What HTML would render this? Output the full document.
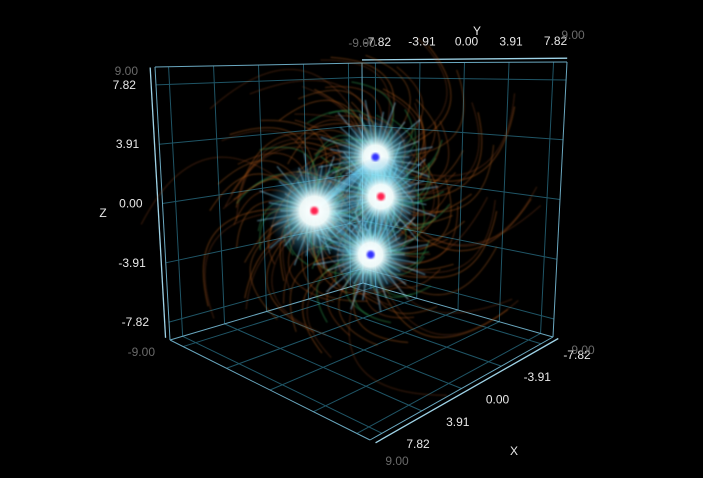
<!DOCTYPE html>
<html><head><meta charset="utf-8"><style>
html,body{margin:0;padding:0;background:#000;width:703px;height:478px;overflow:hidden}
svg{display:block}
text{font-family:"Liberation Sans",sans-serif;font-size:12px}
</style></head><body>
<svg id="chart" width="703" height="478" viewBox="0 0 703 478">
<defs>
<radialGradient id="glow"><stop offset="0" stop-color="#fff" stop-opacity="1"/><stop offset="0.3" stop-color="#f4ffff" stop-opacity="0.95"/><stop offset="0.55" stop-color="#7fe6ff" stop-opacity="0.5"/><stop offset="1" stop-color="#1080c0" stop-opacity="0"/></radialGradient>
<filter id="blur1"><feGaussianBlur stdDeviation="1"/></filter>
<filter id="blur2"><feGaussianBlur stdDeviation="0.7"/></filter>
</defs>
<g id="grid"></g>
<g id="field" filter="url(#blur2)"></g>
<g id="charges"></g>
<g id="labels"></g>
</svg>
<script>
const tickValues=[-7.82,-3.91,0,3.91,7.82];
const tickLabels=["-7.82","-3.91","0.00","3.91","7.82"];
const chargeX=[2.5,0,0,0];
const chargeY=[-2,1,1.5,0.6];
const chargeZ=[-0.3,3,0.65,-3];
const chargeSign=[1,-1,1,-1];
const chargeSize=[1.2,1,1,1];

const NS="http://www.w3.org/2000/svg";
const C={b:{mm:[363,283],pm:[170,340],mp:[553,337],pp:[370,440]},t:{mm:[362,63],pm:[155,67],mp:[567,62],pp:[372,45]}};
function lerp(a,b,t){return [a[0]+(b[0]-a[0])*t,a[1]+(b[1]-a[1])*t];}
function proj(x,y,z){
 const u=(x+9)/18,v=(y+9)/18,w=(z+9)/18;
 function face(f){return lerp(lerp(f.mm,f.pm,u),lerp(f.mp,f.pp,u),v);}
 return lerp(face(C.b),face(C.t),w);
}
function el(tag,attrs,parent){const e=document.createElementNS(NS,tag);for(const k in attrs)e.setAttribute(k,attrs[k]);parent.appendChild(e);return e;}
function line3(a,b,parent,stroke,sw){
 const p=proj(...a),q=proj(...b);
 return el('line',{x1:p[0],y1:p[1],x2:q[0],y2:q[1],stroke:stroke,'stroke-width':sw},parent);
}
const grid=document.getElementById('grid');
const gc="#1f5566";
tickValues.forEach(t=>{
 let l;
 l=line3([t,-9,-9],[t,-9,9],grid,gc,1);
 l=line3([-9,-9,t],[9,-9,t],grid,gc,1);
 l=line3([-9,t,-9],[-9,t,9],grid,gc,1);
 l=line3([-9,-9,t],[-9,9,t],grid,gc,1);
 l=line3([t,-9,-9],[t,9,-9],grid,gc,1);
 l=line3([-9,t,-9],[9,t,-9],grid,gc,1);
});
const ec="#6aa8c0";
[[[9,-9,-9],[9,-9,9]],[[-9,-9,9],[9,-9,9]],[[-9,-9,9],[-9,9,9]],[[-9,9,-9],[-9,9,9]],[[9,-9,-9],[-9,-9,-9]],[[-9,9,-9],[-9,-9,-9]],[[9,-9,-9],[9,9,-9]],[[-9,9,-9],[9,9,-9]],[[-9,-9,-9],[-9,-9,9]]].forEach(e=>{
 const l=line3(e[0],e[1],grid,ec,1);
});
let ab;
ab=line3([9,-9.4,-9],[9,-9.4,9],grid,"#9fd4e8",1.3);
ab=line3([-9,-9,9.25],[-9,9,9.25],grid,"#9fd4e8",1.3);
ab=line3([-9,9.5,-9],[9,9.5,-9],grid,"#9fd4e8",1.3);

const field=document.getElementById('field');
const P=chargeX.map((x,i)=>proj(x,chargeY[i],chargeZ[i]));
const loops=[[190,'#c0601a',0.35],[160,'#c86a20',0.3],[130,'#b85a18',0.3],[110,'#2ea050',0.4],[85,'#30b060',0.35],[220,'#a8501a',0.25]];
P.forEach((p,i)=>{
 loops.forEach((L,j)=>{
  for(let k=0;k<8;k++){
   const a=(k*45+i*23+j*17)*Math.PI/180;
   const r=L[0]*(0.55+0.08*((k+j)%4));
   const ex=p[0]+Math.cos(a)*r, ey=p[1]+Math.sin(a)*r*0.9;
   const cx=p[0]+Math.cos(a+0.9)*r*0.9, cy=p[1]+Math.sin(a+0.9)*r*0.9;
   const path=el('path',{d:`M${p[0]},${p[1]} Q${cx},${cy} ${ex},${ey}`,fill:'none',stroke:L[1],'stroke-opacity':L[2],'stroke-width':1.4},field);
   
   
  }
 });
 for(let k=0;k<36;k++){
  const a=k*Math.PI*2/36;
  const r=34+(k%3)*12;
  const ray=el('line',{x1:p[0],y1:p[1],x2:p[0]+Math.cos(a)*r,y2:p[1]+Math.sin(a)*r,stroke:'#8fe0ff','stroke-opacity':0.5,'stroke-width':1.2},field);
  
  
 }
});
for(let i=0;i<P.length;i++)for(let j=i+1;j<P.length;j++){
 if(chargeSign[i]===chargeSign[j])continue;
 for(let k=-3;k<=3;k++){
  const mx=(P[i][0]+P[j][0])/2+k*12,my=(P[i][1]+P[j][1])/2-k*7;
  const lk=el('path',{d:`M${P[i][0]},${P[i][1]} Q${mx},${my} ${P[j][0]},${P[j][1]}`,fill:'none',stroke:'#7fd8ff','stroke-opacity':0.45,'stroke-width':1.4},field);
  
  
 }
}
const ch=document.getElementById('charges');
P.forEach((p,i)=>{
 const g=el('circle',{cx:p[0],cy:p[1],r:40*chargeSize[i],fill:'url(#glow)'},ch);
 
 
 const c=el('circle',{cx:p[0],cy:p[1],r:4,fill:chargeSign[i]>0?'#ff2050':'#3030ff',filter:'url(#blur1)'},ch);
 
 
});
const lab=document.getElementById('labels');
function txt(s,x,y,anchor,fill,size,name){
 const t=el('text',{x:x,y:y,'text-anchor':anchor,fill:fill,'font-size':size},lab);t.textContent=s;
 
 
 return t;
}
const grey="#6a6a6a",wh="#e8e8e8";
tickValues.forEach((t,i)=>{
 let p=proj(9,-9,t); txt(tickLabels[i],p[0]-20,p[1]+4,'end',wh,12.5,'z-tick-label');
 p=proj(-9,t,9); txt(tickLabels[i],p[0]+2,p[1]-17,'middle',wh,12.5,'y-tick-label');
 p=proj(t,9,-9); txt(tickLabels[i],p[0]+36,p[1]+15,'middle',wh,12.5,'x-tick-label');
});
let p;
p=proj(9,-9,9);txt("9.00",p[0]-17,p[1]+8,'end',grey,12.5,'z-max-label');
p=proj(9,-9,-9);txt("-9.00",p[0]-15,p[1]+16,'end',grey,12.5,'z-min-label');
p=proj(-9,-9,9);txt("-9.00",p[0]+0,p[1]-16,'middle',grey,12.5,'y-min-label');
p=proj(-9,9,9);txt("9.00",p[0]+6,p[1]-23,'middle',grey,12.5,'y-max-label');
p=proj(-9,9,-9);txt("9.00",p[0]+30,p[1]+17,'middle',grey,12.5,'x-min-label');
p=proj(9,9,-9);txt("9.00",p[0]+27,p[1]+25,'middle',grey,12.5,'x-max-label');
txt("Z",103,217,'middle',wh,15,'z-axis-title');
txt("Y",477,35,'middle',wh,15,'y-axis-title');
txt("X",514,455,'middle',wh,15,'x-axis-title');
</script>
</body></html>
